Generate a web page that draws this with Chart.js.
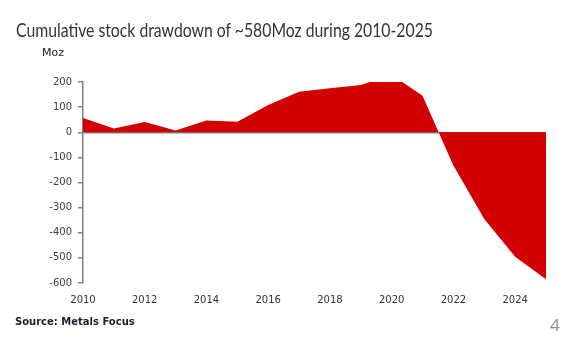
<!DOCTYPE html>
<html>
<head>
<meta charset="utf-8">
<script src="https://cdn.jsdelivr.net/npm/chart.js@4"></script>
<style>
  body { margin: 0; background: #fff; }
  #wrap { position: relative; width: 575px; height: 350px; overflow: hidden; }
  #chart { position: absolute; left: 0; top: 0; }
  .txt { position: absolute; white-space: nowrap; }
  #title { left: 16px; top: 18px; font: 19px Lato, sans-serif; color: #333; transform: scaleX(0.83); transform-origin: left top; }
  #unit { left: 42px; top: 46px; font: 11px "DejaVu Sans", sans-serif; color: #222; }
  #source { left: 15px; top: 316px; font: bold 10px "DejaVu Sans", sans-serif; color: #1c1c2c; }
  #page { left: 550px; top: 313px; font: 17px "Open Sans", sans-serif; color: #8a8fa3; }
</style>
</head>
<body>
<div id="wrap">
  <canvas id="chart" width="575" height="350"></canvas>
  <div class="txt" id="title">Cumulative stock drawdown of ~580Moz during 2010-2025</div>
  <div class="txt" id="unit">Moz</div>
  <div class="txt" id="source">Source: Metals Focus</div>
  <div class="txt" id="page">4</div>
</div>
<script>
// cumulative stock change, Moz
const years = [2010, 2011, 2012, 2013, 2014, 2015, 2016, 2017, 2018, 2019, 2020, 2021, 2022, 2023, 2024, 2025];
const stock = [57, 15, 41, 7, 47, 42, 108, 161, 175, 188, 229, 145, -132, -345, -496, -585];
const xTicks = [2010, 2012, 2014, 2016, 2018, 2020, 2022, 2024];
const yTicks = [200, 100, 0, -100, -200, -300, -400, -500, -600];

const points = years.map((yr, i) => ({x: yr, y: stock[i]}));
const axisGrey = '#808080';

const ctx = document.getElementById('chart').getContext('2d');
const myChart = new Chart(ctx, {
  type: 'line',
  data: {
    datasets: [{
      data: points,
      fill: 'origin',
      backgroundColor: '#d20000',
      borderWidth: 0,
      pointRadius: 0,
      tension: 0
    }]
  },
  options: {
    responsive: false,
    animation: false,
    layout: { padding: { left: 0, top: 82, right: 29, bottom: 37 } },
    plugins: { legend: { display: false }, tooltip: { enabled: false } },
    scales: {
      x: {
        type: 'linear',
        min: 2010,
        max: 2025,
        grid: { display: false, drawTicks: false },
        border: { display: false },
        afterBuildTicks: s => { s.ticks = xTicks.map(v => ({value: v})); },
        afterFit: s => { s.height = 30; s.paddingLeft = 0; s.paddingRight = 0; },
        ticks: {
          padding: 11,
          maxRotation: 0,
          autoSkip: false,
          color: '#333',
          font: { family: 'DejaVu Sans', size: 10 },
          callback: v => String(v)
        }
      },
      y: {
        min: -600,
        max: 200,
        z: 1,
        afterBuildTicks: s => { s.ticks = yTicks.map(v => ({value: v})); },
        afterFit: s => { s.width = 83; s.paddingTop = 0; s.paddingBottom = 0; },
        grid: {
          color: c => (c.tick && c.tick.value === 0) ? axisGrey : 'transparent',
          tickColor: axisGrey,
          tickLength: 5,
          lineWidth: 1.5
        },
        border: { display: true, color: axisGrey, width: 1.5 },
        ticks: {
          padding: 6,
          color: '#404040',
          font: { family: 'DejaVu Sans', size: 10 },
          callback: v => String(v)
        }
      }
    }
  }
});
</script>
</body>
</html>
